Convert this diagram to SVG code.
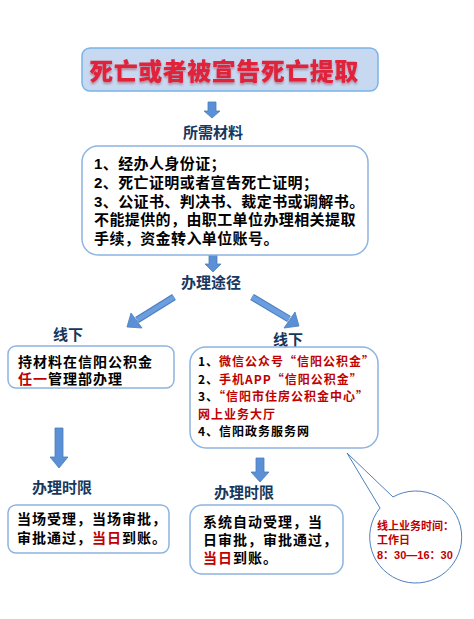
<svg xmlns="http://www.w3.org/2000/svg" width="474" height="619" viewBox="0 0 474 619">
<defs>
<style>
.box{fill:#fff;stroke:#8db4e2;stroke-width:1.5}
.h{font-family:"Liberation Sans","Noto Sans CJK SC",sans-serif;font-weight:bold;fill:#17375e;font-size:15px}
.t{font-family:"Liberation Sans","Noto Sans CJK SC",sans-serif;font-weight:bold;fill:#000;font-size:15px}
.s{font-family:"Liberation Serif","Noto Sans CJK SC",serif;fill:#000;font-size:14px;letter-spacing:1px}
.r{fill:#c00000}
.arr{fill:#5b8fd6;stroke:#4a7ebb;stroke-width:0.8}
.ln{stroke:#4a7ebb;stroke-width:7;stroke-linecap:butt}
.ln2{stroke:#6b9ee0;stroke-width:5}
</style>
<filter id="sh" x="-5%" y="-20%" width="110%" height="160%">
<feDropShadow dx="0" dy="2" stdDeviation="1" flood-color="#a02030" flood-opacity="0.45"/>
</filter>
</defs>

<g id="title">
<rect x="82" y="48" width="296" height="43" rx="8" fill="#c6d9f1" stroke="#79b4e6" stroke-width="1.5"/>
<text x="224" y="80" text-anchor="middle" font-family="'Liberation Sans','Noto Sans CJK SC',sans-serif" font-weight="900" font-size="24" letter-spacing="0.5" fill="#e0203a" filter="url(#sh)">死亡或者被宣告死亡提取</text>
</g>

<g id="connectors">
<polygon class="arr" points="208,102 216,102 216,111 220,111 212,118 204,111 208,111"/>
<polygon class="arr" points="209,255 217,255 217,264 221,264 213,272 205,264 209,264"/>
<g>
<line x1="174" y1="297" x2="137" y2="320" class="ln"/>
<line x1="174" y1="297" x2="137" y2="320" class="ln2"/>
<polygon class="arr" points="127,327 131,313 142,328"/>
</g>
<g>
<line x1="252" y1="297" x2="289" y2="319" class="ln"/>
<line x1="252" y1="297" x2="289" y2="319" class="ln2"/>
<polygon class="arr" points="299,326 284,328 295,312"/>
</g>
<polygon class="arr" points="55,428 63,428 63,457 68,457 59,468 50,457 55,457"/>
<polygon class="arr" points="256,458 264,458 264,472 269,472 260,482 251,472 256,472"/>
</g>

<g id="materials-label"><text class="h" x="213" y="138" text-anchor="middle">所需材料</text></g>

<g id="materials">
<rect class="box" x="82" y="146" width="286" height="109" rx="16"/>
<text class="t" x="94" y="169" letter-spacing="0.4">1、经办人身份证；</text>
<text class="t" x="94" y="188" letter-spacing="0.4">2、死亡证明或者宣告死亡证明；</text>
<text class="t" x="94" y="207" letter-spacing="0.4">3、公证书、判决书、裁定书或调解书。</text>
<text class="t" x="94" y="225" letter-spacing="0.4">不能提供的，由职工单位办理相关提取</text>
<text class="t" x="94" y="244" letter-spacing="0.4">手续，资金转入单位账号。</text>
</g>

<g id="route-label"><text class="h" x="211" y="288" text-anchor="middle">办理途径</text></g>

<g id="offline-label"><text class="h" x="68" y="340" text-anchor="middle">线下</text></g>
<g id="online-label"><text class="h" x="288" y="345" text-anchor="middle">线下</text></g>

<g id="offline">
<rect class="box" x="8" y="346" width="166" height="42" rx="8"/>
<text class="s" x="18" y="367" font-weight="bold">持材料在信阳公积金</text>
<text class="s" x="18" y="384" font-weight="bold"><tspan class="r">任一</tspan>管理部办理</text>
</g>

<g id="online">
<rect class="box" x="190" y="347" width="188" height="101" rx="16"/>
<g font-family="'Noto Sans CJK SC',sans-serif" font-weight="bold" font-size="12" letter-spacing="1" fill="#000">
<text x="198" y="366">1、<tspan class="r">微信公众号“信阳公积金”</tspan></text>
<text x="198" y="383.5">2、<tspan class="r">手机APP“信阳公积金”</tspan></text>
<text x="198" y="401">3、<tspan class="r">“信阳市住房公积金中心”</tspan></text>
<text x="198" y="418.5" class="r">网上业务大厅</text>
<text x="198" y="436">4、信阳政务服务网</text>
</g>
</g>

<g id="limit-left-label"><text class="h" x="62" y="493" text-anchor="middle">办理时限</text></g>
<g id="limit-right-label"><text class="h" x="244" y="498" text-anchor="middle">办理时限</text></g>

<g id="limit-left">
<rect class="box" x="8" y="505" width="161" height="48" rx="8"/>
<text class="s" x="17" y="524" font-weight="bold" letter-spacing="0.5">当场受理，当场审批，</text>
<text class="s" x="17" y="543" font-weight="bold" letter-spacing="0.5">审批通过，<tspan class="r">当日</tspan>到账。</text>
</g>

<g id="limit-right">
<rect class="box" x="190" y="505" width="153" height="69" rx="12"/>
<text class="s" x="203" y="527" font-weight="bold">系统自动受理，当</text>
<text class="s" x="203" y="545" font-weight="bold">日审批，审批通过，</text>
<text class="s" x="203" y="563" font-weight="bold"><tspan class="r">当日</tspan>到账。</text>
</g>

<g id="callout">
<path d="M393,497 L347,453 L380,508 A46,46 0 1 0 393,497 Z" fill="#fff" stroke="#4f7fbf" stroke-width="1"/>
<g font-family="'Liberation Sans','Noto Sans CJK SC',sans-serif" font-weight="bold" font-size="11" fill="#c00000">
<text x="377" y="530">线上业务时间：</text>
<text x="377" y="544">工作日</text>
<text x="377" y="559">8：30—16：30</text>
</g>
</g>
</svg>
